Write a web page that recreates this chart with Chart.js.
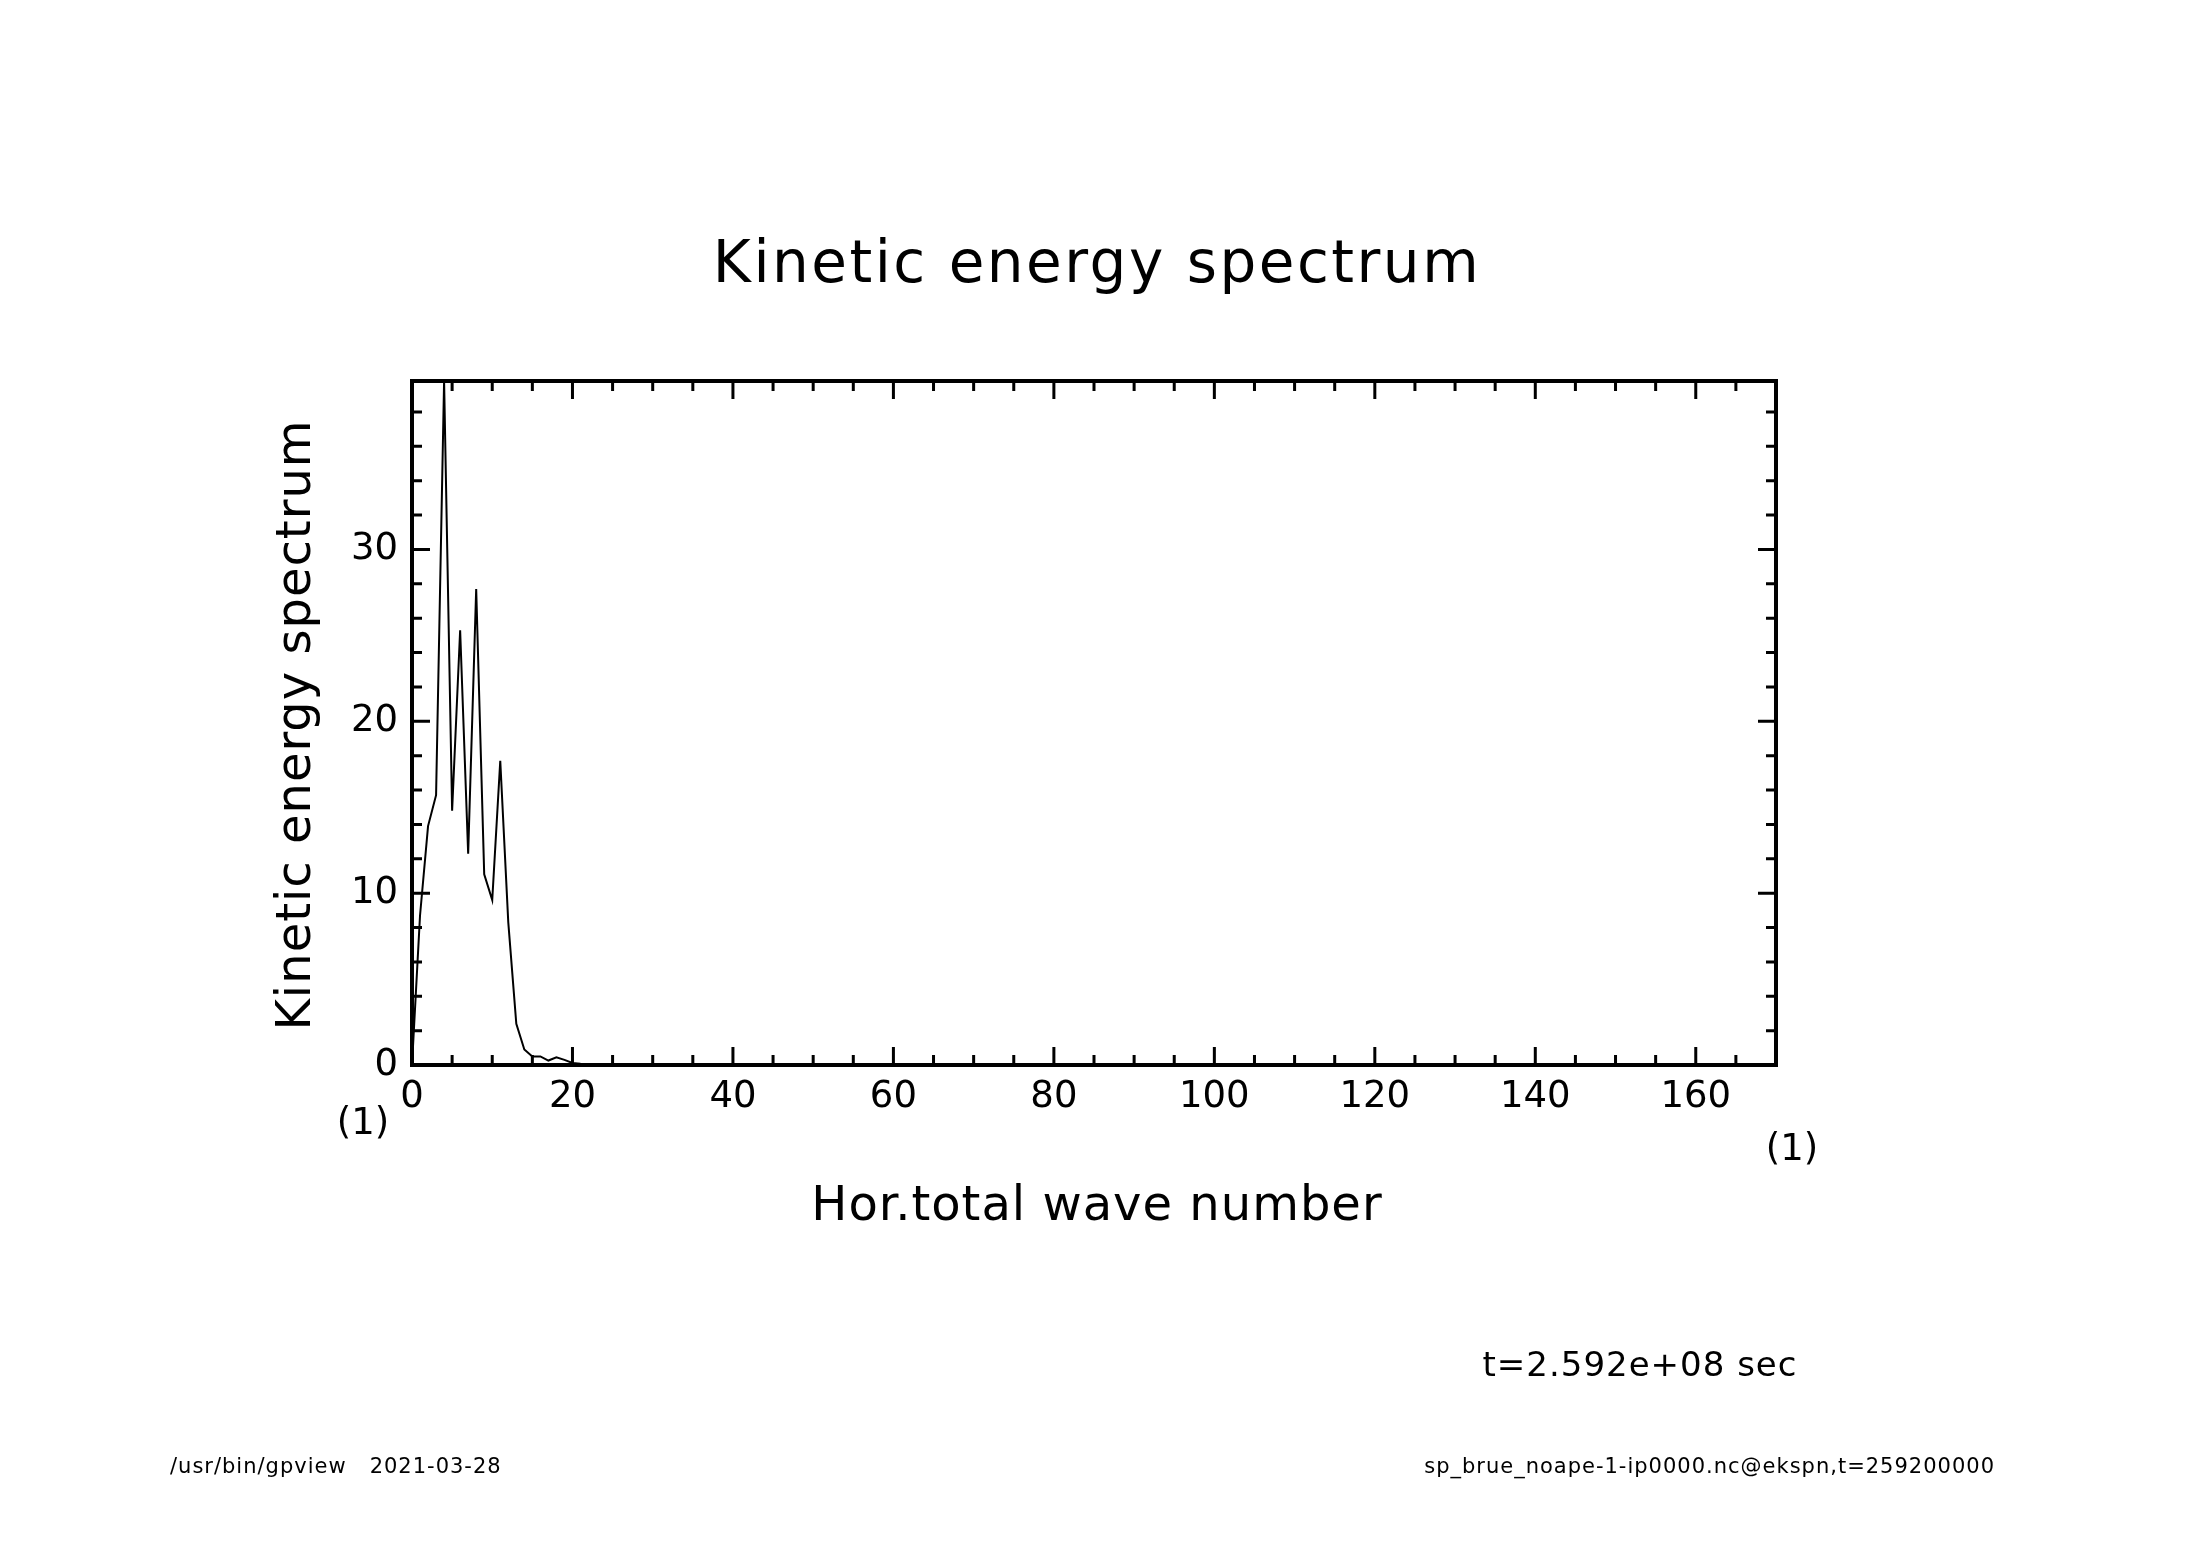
<!DOCTYPE html>
<html><head><meta charset="utf-8">
<script src="https://cdn.jsdelivr.net/npm/chart.js@4/dist/chart.umd.min.js"></script>
<style>html,body{margin:0;padding:0;background:#fff}#w{width:2188px;height:1546px}</style>
</head><body><div id="w"><canvas id="c"></canvas></div>
<script>
const waveNumbers = Array.from({length: 171}, (_, k) => k);
const energyHead = [0, 8.7, 13.9, 15.7, 39.8, 14.8, 25.3, 12.3, 27.7, 11.1, 9.6, 17.7, 8.3, 2.4, 0.9, 0.5, 0.5, 0.26, 0.45, 0.3, 0.12, 0.08, 0.06, 0.05, 0.04, 0.03, 0.02, 0.02, 0.01, 0.01];
const energy = waveNumbers.map(k => k < energyHead.length ? energyHead[k] : 0);
const xTicks = [0, 20, 40, 60, 80, 100, 120, 140, 160];
const yTicks = [0, 10, 20, 30];
const titleText = 'Kinetic energy spectrum';
const xTitle = 'Hor.total wave number';
const yTitle = 'Kinetic energy spectrum';
const timeText = 't=2.592e+08 sec';
const footLeft = '/usr/bin/gpview   2021-03-28';
const footRight = 'sp_brue_noape-1-ip0000.nc@ekspn,t=259200000';

const deco = {
  id: 'deco',
  afterDraw(chart) {
    const ctx = chart.ctx, a = chart.chartArea, xs = chart.scales.x, ys = chart.scales.y;
    ctx.save();
    ctx.strokeStyle = '#000'; ctx.fillStyle = '#000';
    ctx.lineWidth = 4;
    ctx.strokeRect(a.left, a.top, a.right - a.left, a.bottom - a.top);
    ctx.lineWidth = 3;
    for (let v = 0; v <= 170; v += 5) {
      const p = xs.getPixelForValue(v), L = v % 20 === 0 ? 18 : 10;
      ctx.beginPath(); ctx.moveTo(p, a.bottom); ctx.lineTo(p, a.bottom - L);
      ctx.moveTo(p, a.top); ctx.lineTo(p, a.top + L); ctx.stroke();
    }
    for (let v = 0; v <= 39; v += 2) {
      const p = ys.getPixelForValue(v), L = v % 10 === 0 ? 18 : 10;
      ctx.beginPath(); ctx.moveTo(a.left, p); ctx.lineTo(a.left + L, p);
      ctx.moveTo(a.right, p); ctx.lineTo(a.right - L, p); ctx.stroke();
    }
    ctx.font = '500 37px "DejaVu Sans"';
    ctx.textAlign = 'center'; ctx.textBaseline = 'top';
    xTicks.forEach(v => ctx.fillText(String(v), xs.getPixelForValue(v), a.bottom + 14));
    ctx.textAlign = 'right'; ctx.textBaseline = 'middle';
    yTicks.forEach(v => ctx.fillText(String(v), a.left - 14, ys.getPixelForValue(v)));
    ctx.textAlign = 'center'; ctx.textBaseline = 'middle';
    ctx.fillText('(1)', 363, 1124);
    ctx.fillText('(1)', 1792, 1150);
    ctx.letterSpacing = '2.5px';
    ctx.font = '58px "DejaVu Sans"';
    ctx.fillText(titleText, 1097, 267);
    ctx.letterSpacing = '1px';
    ctx.font = '48px "DejaVu Sans"';
    ctx.fillText(xTitle, 1097, 1208);
    ctx.save(); ctx.translate(298, 725); ctx.rotate(-Math.PI / 2);
    ctx.fillText(yTitle, 0, 0); ctx.restore();
    ctx.font = '34px "DejaVu Sans"';
    ctx.fillText(timeText, 1640, 1367);
    ctx.font = '21px "DejaVu Sans"';
    ctx.textAlign = 'left';
    ctx.fillText(footLeft, 170, 1468);
    ctx.textAlign = 'right';
    ctx.fillText(footRight, 1995, 1468);
    ctx.restore();
  }
};

new Chart(document.getElementById('c'), {
  type: 'line',
  data: { datasets: [{ data: waveNumbers.map((k, i) => ({x: k, y: energy[i]})), borderColor: '#000', borderWidth: 2, pointRadius: 0, tension: 0, fill: false }] },
  options: {
    responsive: true, maintainAspectRatio: false, animation: false,
    devicePixelRatio: 1,
    layout: { padding: { left: 412, right: 412, top: 381, bottom: 481 } },
    plugins: { legend: { display: false }, tooltip: { enabled: false } },
    scales: {
      x: { type: 'linear', min: 0, max: 170, display: false },
      y: { type: 'linear', min: 0, max: 39.8, display: false }
    }
  },
  plugins: [deco]
});
</script></body></html>
